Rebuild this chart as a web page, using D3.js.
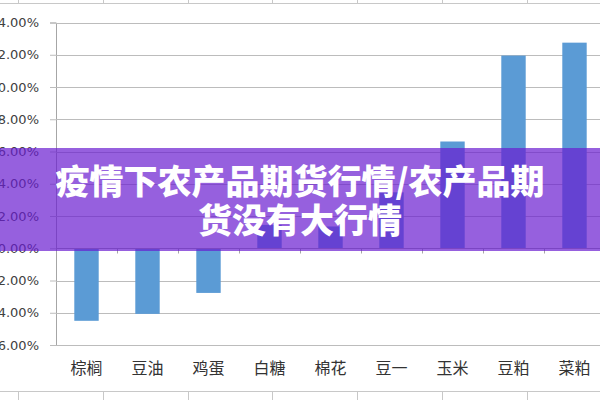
<!DOCTYPE html>
<html lang="zh">
<head>
    <meta charset="UTF-8">
    <title>农产品期货涨跌幅</title>
    <script src="https://d3js.org/d3.v7.min.js"></script>
    <style>
        body { margin: 0; padding: 0; background: #fff; overflow: hidden; }
        svg { display: block; }
        .ylab { font-family: "DejaVu Sans", Verdana, sans-serif; font-size: 13px; fill: #404040; }
        .xlab { font-family: "Noto Sans CJK SC", sans-serif; font-size: 16px; fill: #333; }
        .title { font-family: "Noto Sans CJK SC", sans-serif; font-size: 34px; font-weight: 900; fill: #fff; }
    </style>
</head>
<body>
<div id="chart"></div>
<script>
    const categories = ["棕榈", "豆油", "鸡蛋", "白糖", "棉花", "豆一", "玉米", "豆粕", "菜粕"];
    const changes = [-4.5, -4.07, -2.77, 1.45, 1.35, 3.47, 6.62, 11.95, 12.75];
    const yTicks = [-6, -4, -2, 0, 2, 4, 6, 8, 10, 12, 14];
    const titleLines = ["疫情下农产品期货行情/农产品期", "货没有大行情"];

    const width = 600, height = 400;
    const svg = d3.select("#chart").append("svg").attr("width", width).attr("height", height);

    const x = d3.scaleBand().domain(categories).range([56, 605]).paddingInner(0.6).paddingOuter(0.3);
    const y = d3.scaleLinear().domain([-6, 14]).range([345, 22.5]);

    // worksheet cell borders peeking out above and below the chart
    const cellLines = svg.append("g").attr("stroke", "#c8c8c8").attr("stroke-width", 1);
    cellLines.append("line").attr("x1", 0).attr("x2", width).attr("y1", 3.5).attr("y2", 3.5);
    cellLines.append("line").attr("x1", 0).attr("x2", width).attr("y1", 391.5).attr("y2", 391.5);
    d3.range(7).forEach(k => {
        const cx = Math.round(18 + k * 84.8) + 0.5;
        cellLines.append("line").attr("x1", cx).attr("x2", cx).attr("y1", 0).attr("y2", 3);
        cellLines.append("line").attr("x1", cx).attr("x2", cx).attr("y1", 392).attr("y2", height);
    });

    // gridlines + y labels
    const yAxis = d3.axisLeft(y).tickValues(yTicks).tickSize(6).tickPadding(11)
        .tickFormat(d => d3.format(".2f")(d) + "%");
    const gy = svg.append("g").attr("transform", "translate(56,0)").call(yAxis);
    gy.select(".domain").attr("stroke", "#a6a6a6");
    gy.selectAll(".tick line").attr("stroke", "#bcbcbc");
    gy.selectAll(".tick text").attr("class", "ylab").attr("font-family", null).attr("font-size", null);

    svg.append("g").selectAll("line")
        .data(yTicks.filter(d => d !== 0))
        .join("line")
        .attr("x1", 56).attr("x2", width)
        .attr("y1", d => Math.round(y(d)) + 0.5).attr("y2", d => Math.round(y(d)) + 0.5)
        .attr("stroke", "#bcbcbc");

    // bars
    svg.append("g").selectAll("rect")
        .data(categories)
        .join("rect")
        .attr("x", d => x(d))
        .attr("width", x.bandwidth())
        .attr("y", (d, i) => y(Math.max(0, changes[i])))
        .attr("height", (d, i) => Math.abs(y(changes[i]) - y(0)))
        .attr("fill", "#5b9bd5");

    // zero axis with ticks between categories
    const y0 = Math.round(y(0)) + 0.5;
    svg.append("line").attr("x1", 56).attr("x2", width).attr("y1", y0).attr("y2", y0).attr("stroke", "#a6a6a6");
    svg.append("g").selectAll("line")
        .data(d3.range(categories.length + 1))
        .join("line")
        .attr("x1", i => Math.round(x.range()[0] + i * x.step()) + 0.5)
        .attr("x2", i => Math.round(x.range()[0] + i * x.step()) + 0.5)
        .attr("y1", y0).attr("y2", y0 + 5)
        .attr("stroke", "#a6a6a6");

    svg.append("g").selectAll("text")
        .data(categories)
        .join("text")
        .attr("class", "xlab")
        .attr("x", d => x(d) + x.bandwidth() / 2)
        .attr("y", 374)
        .attr("text-anchor", "middle")
        .text(d => d);

    // purple title banner over the chart
    svg.append("rect")
        .attr("x", 0).attr("y", 148).attr("width", width).attr("height", 103)
        .attr("fill", "rgb(105,28,208)").attr("fill-opacity", 0.7);

    svg.append("g").selectAll("text")
        .data(titleLines)
        .join("text")
        .attr("class", "title")
        .attr("x", 300)
        .attr("y", (d, i) => 194 + i * 39)
        .attr("text-anchor", "middle")
        .text(d => d);
</script>
</body>
</html>
